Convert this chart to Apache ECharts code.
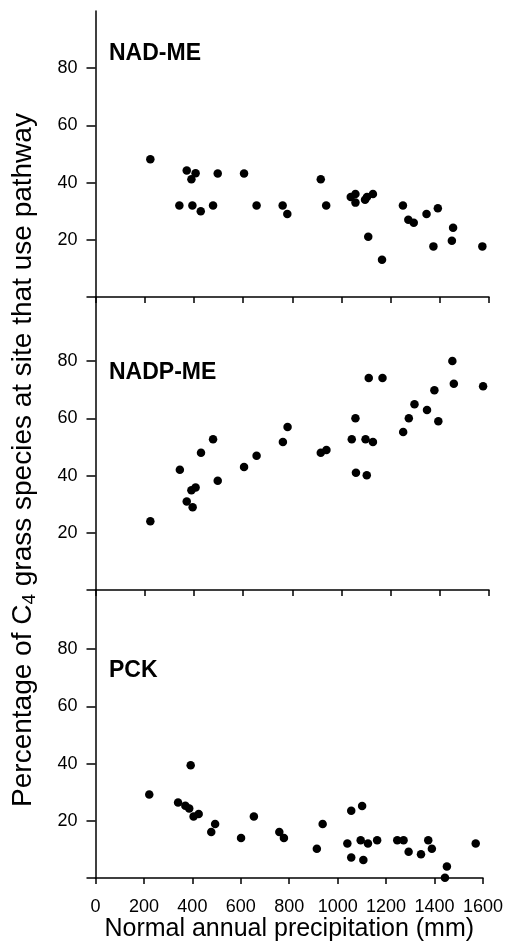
<!DOCTYPE html>
<html>
<head>
<meta charset="utf-8">
<script src="https://cdn.jsdelivr.net/npm/echarts@6/dist/echarts.min.js"></script>
<style>
  html, body { margin: 0; padding: 0; background: #fff; }
  #chart { width: 506px; height: 949px; }
</style>
</head>
<body>
<div id="chart"></div>
<script>
// 数据：[年降水量(mm), 百分比]
var nadMe = [
  [223, 48.2], [341, 32], [371, 44.2], [390, 41.2], [407, 43.3], [394, 32],
  [428, 30], [478, 32], [497, 43.2], [604, 43.2], [655, 32], [761, 32],
  [780, 29], [916, 41.2], [938, 32], [1038, 35], [1057, 36], [1057, 33],
  [1096, 34], [1104, 35], [1128, 36], [1109, 21.1], [1165, 13], [1250, 32],
  [1272, 27], [1294, 26], [1346, 29], [1392, 31], [1374, 17.7], [1454, 24.2],
  [1449, 19.7], [1573, 17.7]
];
var nadpMe = [
  [223, 24], [343, 42], [371, 30.9], [395, 28.9], [390, 34.9], [407, 35.8],
  [429, 48], [478, 52.7], [497, 38.2], [604, 43], [655, 46.9], [762, 51.7],
  [781, 57], [916, 48], [939, 48.9], [1042, 52.7], [1057, 60], [1059, 41],
  [1098, 52.7], [1128, 51.7], [1103, 40.1], [1111, 74.1], [1167, 74.1], [1251, 55.2],
  [1274, 60], [1297, 64.9], [1348, 62.9], [1378, 69.8], [1394, 59], [1451, 80],
  [1457, 72.1], [1576, 71.2]
];
var pck = [
  [222, 29.2], [341, 26.4], [371, 25.3], [387, 24.3], [393, 39.4], [405, 21.5],
  [426, 22.4], [478, 16.1], [494, 18.9], [601, 14], [654, 21.5], [759, 16.1],
  [778, 14], [914, 10.2], [938, 18.9], [1040, 12.1], [1056, 23.5], [1056, 7.2],
  [1095, 13.2], [1101, 25.2], [1106, 6.3], [1125, 12.1], [1163, 13.2], [1246, 13.2],
  [1272, 13.2], [1293, 9.2], [1344, 8.3], [1374, 13.2], [1389, 10.2], [1451, 4],
  [1443, 0.1], [1570, 12.1]
];
var panelNames = ['NAD-ME', 'NADP-ME', 'PCK'];
var xTicks = [0, 200, 400, 600, 800, 1000, 1200, 1400, 1600];
var yTicks = [0, 20, 40, 60, 80];
var yLabels = [20, 40, 60, 80];

var FONT = '"Liberation Sans", Arial, sans-serif';
var chart = echarts.init(document.getElementById('chart'));

// 三个面板上下紧贴
var grids = [
  { left: 95.5, right: 17, top: 11, height: 286 },
  { left: 95.5, right: 17, top: 297, height: 293 },
  { left: 95.5, right: 17, top: 590, height: 288 }
];
var yMax = [100, 102.4, 100.7];
var allData = [nadMe, nadpMe, pck];
var labelY = [53.5, 372.3, 670.8];

var axisLine = { show: true, lineStyle: { color: '#000', width: 1.5 } };

var xAxes = grids.map(function (g, i) {
  return {
    type: 'value', gridIndex: i, min: 0, max: 1600, interval: 200,
    axisLine: axisLine,
    axisTick: { show: true, inside: false, length: 6, lineStyle: { color: '#000', width: 1.5 } },
    axisLabel: {
      show: i === 2, color: '#000', fontSize: 18, fontFamily: FONT, margin: 20,
      customValues: xTicks,
      formatter: function (v) { return String(v); }
    },
    splitLine: { show: false },
    name: i === 2 ? 'Normal annual precipitation (mm)' : '',
    nameLocation: 'middle', nameGap: 36,
    nameTextStyle: { color: '#000', fontSize: 25, fontFamily: FONT }
  };
});

var yAxes = grids.map(function (g, i) {
  return {
    type: 'value', gridIndex: i, min: 0, max: yMax[i], interval: 20,
    axisLine: axisLine,
    axisTick: { show: true, inside: false, length: 9, customValues: yTicks,
      lineStyle: { color: '#000', width: 1.5 } },
    axisLabel: { color: '#000', fontSize: 18, fontFamily: FONT, margin: 18,
      customValues: yLabels },
    splitLine: { show: false }
  };
});

var series = allData.map(function (d, i) {
  return {
    type: 'scatter', xAxisIndex: i, yAxisIndex: i, data: d,
    symbol: 'circle', symbolSize: 8.5, clip: false,
    itemStyle: { color: '#000', opacity: 1 }, z: 5
  };
});

var graphics = panelNames.map(function (n, i) {
  return {
    type: 'text', x: 109, y: labelY[i],
    style: { text: n, fontSize: 23, fontWeight: 'bold', fontFamily: FONT,
      fill: '#000', textAlign: 'left', textVerticalAlign: 'middle' }
  };
});
// 纵轴标题（含下标）
graphics.push({
  type: 'text', x: 23, y: 460, rotation: Math.PI / 2,
  style: {
    text: 'Percentage of C{sub|4} grass species at site that use pathway',
    fontSize: 28, fontFamily: FONT, fill: '#000', lineHeight: 32,
    textAlign: 'center', textVerticalAlign: 'middle',
    rich: { sub: { fontSize: 19, fontFamily: FONT, fill: '#000', verticalAlign: 'bottom' } }
  }
});

var option = {
  backgroundColor: '#fff',
  animation: false,
  grid: grids,
  xAxis: xAxes,
  yAxis: yAxes,
  series: series,
  graphic: graphics
};

chart.setOption(option);

window.onresize = function () {
  chart.resize();
};
</script>
</body>
</html>
